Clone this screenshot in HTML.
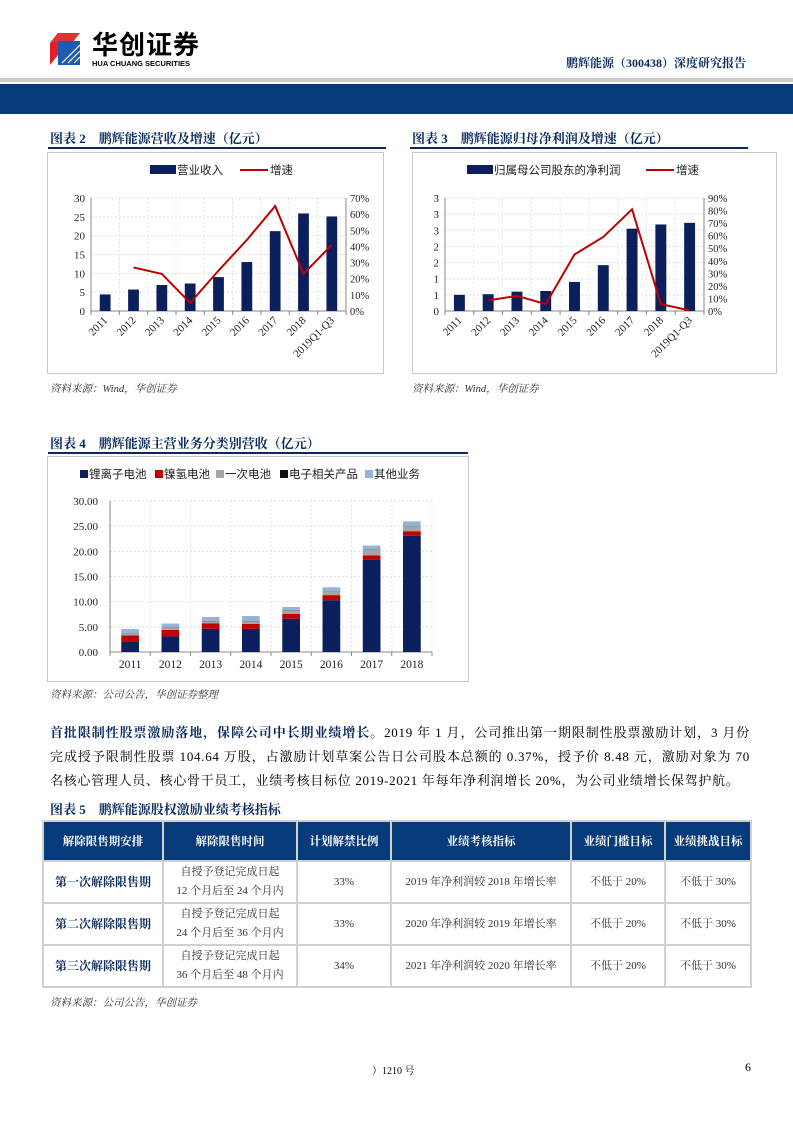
<!DOCTYPE html>
<html><head><meta charset="utf-8">
<style>
body{margin:0;width:793px;height:1122px;position:relative;background:#fff;font-family:"Liberation Serif","Noto Serif CJK SC",serif;color:#000;overflow:hidden}
.abs{position:absolute}
.ttl{position:absolute;font-weight:bold;font-size:13px;color:#0a2a5e;font-family:"Liberation Serif","Noto Serif CJK SC",serif;white-space:nowrap}
.uline{position:absolute;height:2px;background:#0a2a5e}
.src{position:absolute;font-size:10.5px;font-style:italic;color:#333;white-space:nowrap}
.box{position:absolute;border:1px solid #c8c8c8}
table{border-collapse:collapse;position:absolute;left:42px;top:820px;width:710px;font-size:11px}
td,th{border:2px solid #d0d0d0;text-align:center;padding:0}
th{background:#063a7a;color:#fff;font-size:11.5px;height:38px}
td{height:40px;line-height:19px;color:#333}
td.h{color:#0a2a5e;font-weight:bold;font-size:12px}
p.t{position:absolute;left:50px;top:721px;width:700px;margin:0;font-size:13px;line-height:24px;text-align:justify;letter-spacing:0.7px}
</style></head><body>
<div class="abs" style="left:50px;top:33px;width:46px;height:32px">
<svg width="46" height="32"><polygon points="0,10 8,0 8,22 0,32" fill="#e31e24"/><polygon points="8,0 30,0 22,10 0,10" fill="#d33"/><rect x="8" y="8" width="22" height="24" fill="#1d5bb0"/><g stroke="#fff" stroke-width="1.2"><line x1="12" y1="30" x2="30" y2="12"/><line x1="18" y1="30" x2="30" y2="18"/><line x1="24" y1="30" x2="30" y2="24"/></g></svg></div>
<div class="abs" style="left:92px;top:25px;font-size:26px;font-weight:bold;font-family:'Liberation Sans','Noto Sans CJK SC',sans-serif;letter-spacing:1px">华创证券</div>
<div class="abs" style="left:92px;top:59px;font-size:7.5px;font-weight:bold;font-family:'Liberation Sans',sans-serif">HUA CHUANG SECURITIES</div>
<div class="abs" style="left:566px;top:54px;font-size:12px;font-weight:bold;color:#0a2a5e">鹏辉能源（300438）深度研究报告</div>
<div class="abs" style="left:0;top:78px;width:793px;height:4px;background:#ccc"></div>
<div class="abs" style="left:0;top:84px;width:793px;height:30px;background:#063a7a"></div>

<div class="ttl" style="left:50px;top:128px">图表 2　鹏辉能源营收及增速（亿元）</div>
<div class="uline" style="left:48px;top:147px;width:338px"></div>
<div class="box" style="left:47px;top:152px;width:335px;height:220px"></div>
<div class="src" style="left:50px;top:381px">资料来源：Wind，华创证券</div>
<div class="ttl" style="left:412px;top:128px">图表 3　鹏辉能源归母净利润及增速（亿元）</div>
<div class="uline" style="left:410px;top:147px;width:338px"></div>
<div class="box" style="left:412px;top:152px;width:363px;height:220px"></div>
<div class="src" style="left:412px;top:381px">资料来源：Wind，华创证券</div>
<div class="ttl" style="left:50px;top:433px">图表 4　鹏辉能源主营业务分类别营收（亿元）</div>
<div class="uline" style="left:48px;top:452px;width:420px"></div>
<div class="box" style="left:47px;top:456px;width:420px;height:224px"></div>
<div class="src" style="left:50px;top:687px">资料来源：公司公告，华创证券整理</div>

<svg class="abs" style="left:0;top:0" width="793" height="700" id="charts"></svg>

<p class="t"><b style="color:#0a2a5e">首批限制性股票激励落地，保障公司中长期业绩增长。</b>2019 年 1 月，公司推出第一期限制性股票激励计划，3 月份完成授予限制性股票 104.64 万股，占激励计划草案公告日公司股本总额的 0.37%，授予价 8.48 元，激励对象为 70 名核心管理人员、核心骨干员工，业绩考核目标位 2019-2021 年每年净利润增长 20%，为公司业绩增长保驾护航。</p>
<div class="ttl" style="left:50px;top:799px">图表 5　鹏辉能源股权激励业绩考核指标</div>
<table>
<tr><th style="width:118px">解除限售期安排</th><th style="width:132px">解除限售时间</th><th style="width:92px">计划解禁比例</th><th style="width:178px">业绩考核指标</th><th style="width:92px">业绩门槛目标</th><th>业绩挑战目标</th></tr>
<tr><td class="h">第一次解除限售期</td><td>自授予登记完成日起<br>12 个月后至 24 个月内</td><td>33%</td><td>2019 年净利润较 2018 年增长率</td><td>不低于 20%</td><td>不低于 30%</td></tr>
<tr><td class="h">第二次解除限售期</td><td>自授予登记完成日起<br>24 个月后至 36 个月内</td><td>33%</td><td>2020 年净利润较 2019 年增长率</td><td>不低于 20%</td><td>不低于 30%</td></tr>
<tr><td class="h">第三次解除限售期</td><td>自授予登记完成日起<br>36 个月后至 48 个月内</td><td>34%</td><td>2021 年净利润较 2020 年增长率</td><td>不低于 20%</td><td>不低于 30%</td></tr>
</table>
<div class="src" style="left:50px;top:995px">资料来源：公司公告，华创证券</div>
<div class="abs" style="left:372px;top:1062px;font-size:10px">）1210 号</div>
<div class="abs" style="left:745px;top:1060px;font-size:12px">6</div>

<script>
const cats2=["2011","2012","2013","2014","2015","2016","2017","2018","2019Q1-Q3"];
const rev=[4.4,5.7,6.9,7.3,9.0,13.0,21.2,25.9,25.1];
const revG=[null,27,23,5,25,44,65,23,41];
const revTicks=[0,5,10,15,20,25,30];
const pct70=[0,10,20,30,40,50,60,70];
const np=[0.5,0.52,0.6,0.62,0.9,1.42,2.55,2.68,2.73];
const npG=[null,8.5,12,5.5,45,59,81,5.5,0.5];
const npTicks=[0,0.5,1,1.5,2,2.5,3,3.5];
const npTickLabels=["0","1","1","2","2","3","3","3"];
const pct90=[0,10,20,30,40,50,60,70,80,90];
const cats4=["2011","2012","2013","2014","2015","2016","2017","2018"];
const li=[2.0,3.1,4.6,4.6,6.6,10.3,18.3,23.1];
const ni=[1.3,1.3,1.1,1.0,1.0,1.0,0.9,0.9];
const prim=[0.3,0.4,0.4,0.5,0.7,0.8,1.1,0.9];
const elec=[0.05,0.05,0.05,0.05,0.05,0.05,0.05,0.05];
const other=[0.9,0.8,0.8,1.0,0.6,0.7,0.8,1.0];
const ticks4=[0,5,10,15,20,25,30];
const svg=document.getElementById('charts');
const NS="http://www.w3.org/2000/svg";
function mk(tag,at,parent){const e=document.createElementNS(NS,tag);for(const k in at)e.setAttribute(k,at[k]);(parent||svg).appendChild(e);return e;}
function txt(x,y,s,at){const e=mk('text',Object.assign({x:x,y:y,'font-size':11,'font-family':'Liberation Serif, Noto Serif CJK SC, serif',fill:'#222'},at||{}));e.textContent=s;return e;}

function combo(o){
 const L=o.L,R=o.R,T=o.T,B=o.B,n=o.cats.length,w=(R-L)/n;
 const y=v=>B-(v/o.ymax)*(B-T), y2=v=>B-(v/o.pmax)*(B-T), x=i=>L+w*(i+0.5);
 o.yt.forEach((t,i)=>{const g=mk('line',{x1:L,x2:R,y1:y(t),y2:y(t),stroke:'#ddd','stroke-dasharray':'2,2'});
  const l=txt(L-6,y(t)+4,o.ytl?o.ytl[i]:String(t),{'text-anchor':'end'});});
 for(let i=0;i<=n;i++){mk('line',{x1:L+w*i,x2:L+w*i,y1:T,y2:B,stroke:'#e4e4e4','stroke-dasharray':'2,2'});mk('line',{x1:L+w*i,x2:L+w*i,y1:B,y2:B+4,stroke:'#888'});}
 mk('line',{x1:L,x2:L,y1:T,y2:B,stroke:'#888'});mk('line',{x1:L,x2:R,y1:B,y2:B,stroke:'#888'});mk('line',{x1:R,x2:R,y1:T,y2:B,stroke:'#888'});
 o.pt.forEach(t=>{const l=txt(R+4,y2(t)+4,t+'%',{'font-size':10.5});});
 o.vals.forEach((v,i)=>{const b=mk('rect',{x:x(i)-w*0.19,y:y(v),width:w*0.38,height:B-y(v),fill:'#0b1f5c'});
  const l=txt(x(i)+3,B+10,o.cats[i],{'text-anchor':'end',transform:`rotate(-45 ${x(i)+3} ${B+10})`});});
 let d='';o.g.forEach((v,i)=>{if(v!=null)d+=(d?'L':'M')+x(i)+','+y2(v);});
 const p=mk('path',{d:d,fill:'none',stroke:'#c00000','stroke-width':2});
 const lg=o.lg;mk('rect',{x:lg[0],y:lg[1]-5,width:26,height:9,fill:'#0b1f5c'});
 const t1=txt(lg[0]+27,lg[1]+4,o.name,{'font-size':11.5,'font-family':'Liberation Sans, Noto Sans CJK SC, sans-serif'});
 mk('line',{x1:lg[2],x2:lg[2]+28,y1:lg[1],y2:lg[1],stroke:'#c00000','stroke-width':2});
 const t2=txt(lg[2]+30,lg[1]+4,'增速',{'font-size':11.5,'font-family':'Liberation Sans, Noto Sans CJK SC, sans-serif'});
}
combo({L:91,R:346,T:198,B:311,cats:cats2,vals:rev,g:revG,ymax:30,yt:revTicks,pmax:70,pt:pct70,lg:[150,170,240],name:'营业收入'});
combo({L:445,R:704,T:198,B:311,cats:cats2,vals:np,g:npG,ymax:3.5,yt:npTicks,ytl:npTickLabels,pmax:90,pt:pct90,lg:[467,170,646],name:'归属母公司股东的净利润'});

(function(){
 const L=110,R=432,T=501,B=652,n=cats4.length,w=(R-L)/n;
 const y=v=>B-(v/30)*(B-T),x=i=>L+w*(i+0.5);
 ticks4.forEach(t=>{mk('line',{x1:L,x2:R,y1:y(t),y2:y(t),stroke:'#ddd','stroke-dasharray':'2,2'});
  const l=txt(L-12,y(t)+4,t.toFixed(2),{'text-anchor':'end'});});
 for(let i=0;i<=n;i++){mk('line',{x1:L+w*i,x2:L+w*i,y1:T,y2:B,stroke:'#e4e4e4','stroke-dasharray':'2,2'});mk('line',{x1:L+w*i,x2:L+w*i,y1:B,y2:B+4,stroke:'#888'});}
 mk('line',{x1:L,x2:L,y1:T,y2:B,stroke:'#888'});mk('line',{x1:L,x2:R,y1:B,y2:B,stroke:'#888'});
 const series=[[li,'#0b1f5c','li-ion'],[ni,'#c00000','nimh'],[prim,'#a6a6a6','primary'],[elec,'#111','electronics'],[other,'#95b3d7','other']];
 cats4.forEach((c,i)=>{let acc=0;series.forEach(s=>{const v=s[0][i];const r=mk('rect',{x:x(i)-w*0.22,y:y(acc+v),width:w*0.44,height:y(acc)-y(acc+v),fill:s[1]});
   acc+=v;});
  const l=txt(x(i),B+16,c,{'text-anchor':'middle','font-size':11.5});});
 const names=['锂离子电池','镍氢电池','一次电池','电子相关产品','其他业务'];const lx=[80,155,216,280,365];
 names.forEach((nm,i)=>{mk('rect',{x:lx[i],y:470,width:8,height:8,fill:series[i][1]});const t=txt(lx[i]+9,478,nm,{'font-size':11.5,'font-family':'Liberation Sans, Noto Sans CJK SC, sans-serif'});
  });
})();
</script>
</body></html>
